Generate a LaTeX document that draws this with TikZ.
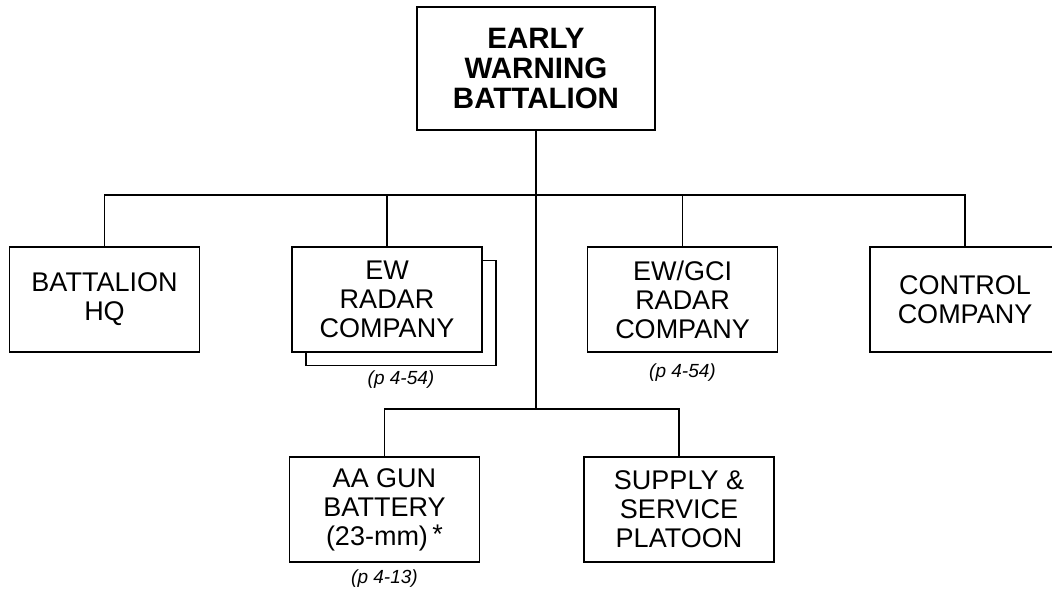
\documentclass[tikz,border=0pt]{standalone}
\usepackage{fontspec}
\setmainfont{Liberation Sans}
\usepackage{tikz}
\usetikzlibrary{positioning,calc}

\begin{document}
\begin{tikzpicture}[x=1pt,y=-1pt,
    unit/.style={draw,fill=white,line width=1.8pt,minimum width=190pt,minimum height=105pt,align=center,inner sep=2pt,font=\fontsize{27}{29}\selectfont},
    head/.style={unit,minimum width=238pt,minimum height=123pt,font=\fontsize{29.5}{30}\selectfont\bfseries},
    note/.style={inner sep=0pt,font=\fontsize{19}{20}\selectfont\itshape},
    link/.style={line width=1.8pt}]
    \useasboundingbox (0,0) rectangle (1052,593);
    \node[head] (ewb) at (536,68.5) {EARLY\\WARNING\\BATTALION};
    \node[unit] (hq) at (104.5,299.5) {BATTALION\\HQ};
    \node[unit] (ewrback) at (401,313) {};
    \node[unit] (ewr) at (387,299.5) {EW\\RADAR\\COMPANY};
    \node[unit] (gci) at (682.5,299.5) {EW/GCI\\RADAR\\COMPANY};
    \node[unit] (ctrl) at (965,299.5) {CONTROL\\COMPANY};
    \node[unit] (aa) at (384.5,509.5) {AA GUN\\BATTERY\\(23-mm)\,\raisebox{2pt}{*}};
    \node[unit] (sup) at (679,509.5) {SUPPLY \&\\SERVICE\\PLATOON};
    \node[note,below=4pt of ewrback] (ewrnote) {(p 4-54)};
    \node[note,below=11pt of gci] (gcinote) {(p 4-54)};
    \node[note,below=7pt of aa] (aanote) {(p 4-13)};
    \coordinate (busA) at (0,195);
    \coordinate (busB) at (0,409);
    \draw[link] (ewb.south) -- (ewb.south |- busB);
    \draw[link] (hq.north) -- (hq.north |- busA) -- (ctrl.north |- busA) -- (ctrl.north);
    \draw[link] (ewr.north) -- (ewr.north |- busA);
    \draw[link] (gci.north) -- (gci.north |- busA);
    \draw[link] (aa.north) -- (aa.north |- busB) -- (sup.north |- busB) -- (sup.north);
\end{tikzpicture}
\end{document}
